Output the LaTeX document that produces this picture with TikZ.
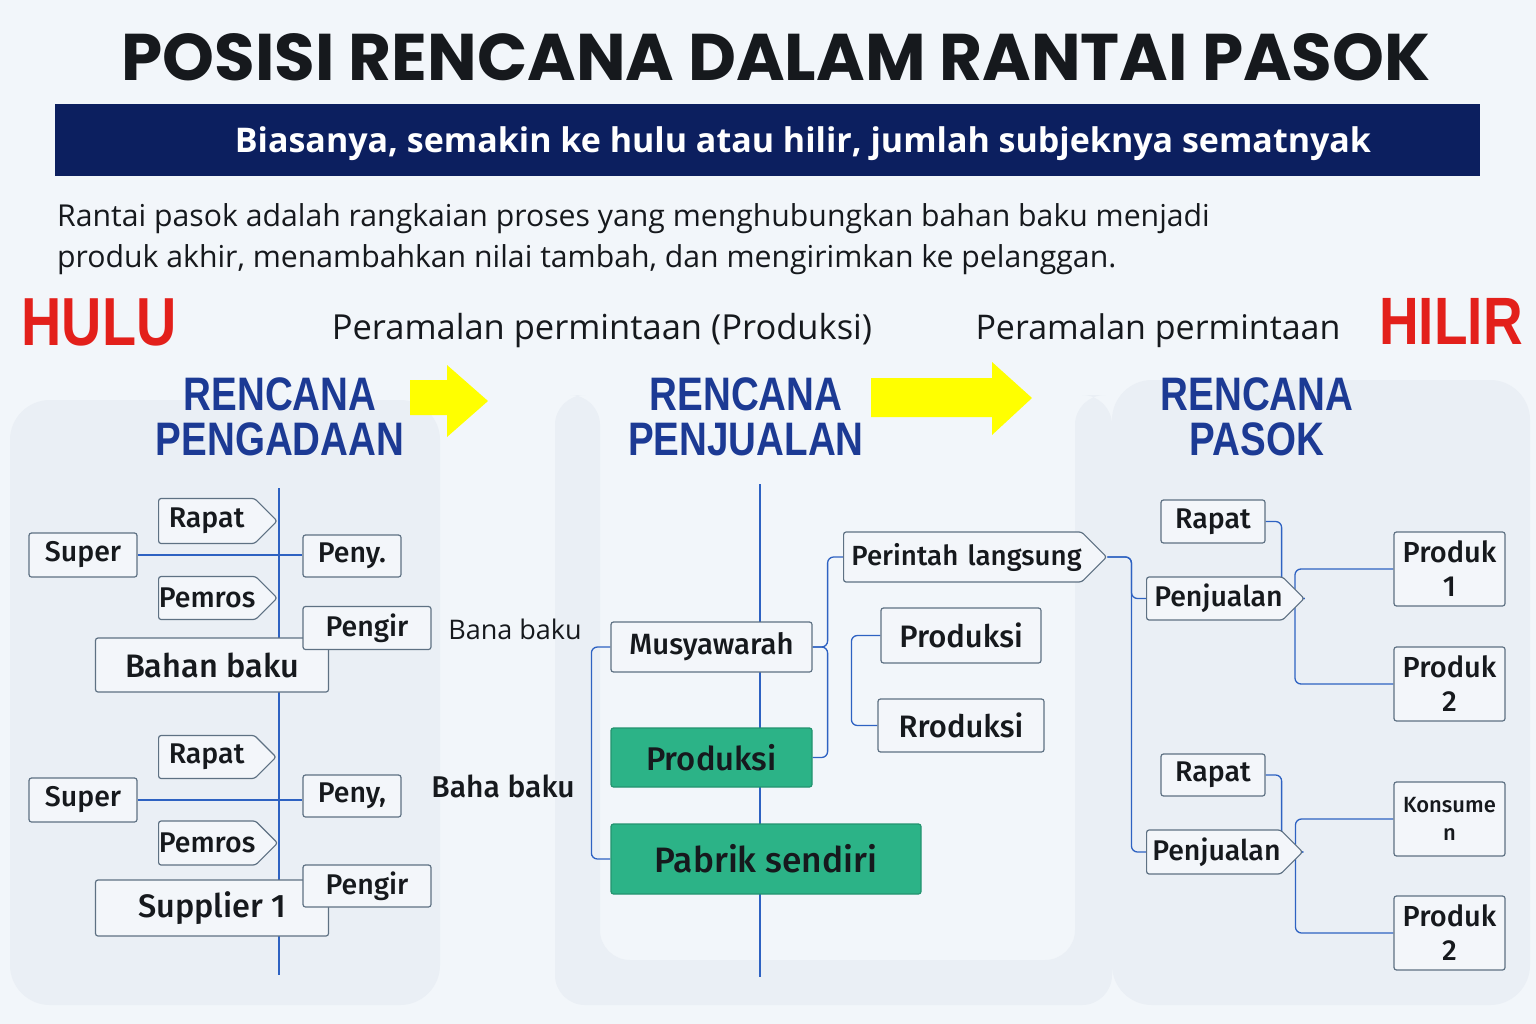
\documentclass[tikz,border=0pt]{standalone}
\usepackage{fontspec}
\setmainfont{Open Sans}
\newfontfamily\titlefont{Poppins}
\newfontfamily\condfont[FakeStretch=0.82]{Liberation Sans}
\IfFontExistsTF{Fira Sans Medium}
  {\newfontfamily\boxfont{Fira Sans Medium}}
  {\IfFontExistsTF{Open Sans Semibold}
    {\newfontfamily\boxfont{Open Sans Semibold}}
    {\IfFontExistsTF{Open Sans SemiBold}
      {\newfontfamily\boxfont{Open Sans SemiBold}}
      {\newfontfamily\boxfont{Open Sans}}}}
\usetikzlibrary{shapes.symbols}
\pgfdeclarelayer{bgl}
\pgfdeclarelayer{back}
\pgfsetlayers{bgl,back,main}
\definecolor{bgc}{HTML}{F2F6FA}
\definecolor{wmark}{HTML}{EAEFF5}
\definecolor{navy}{HTML}{0C1F5F}
\definecolor{headblue}{HTML}{1C3A94}
\definecolor{hred}{HTML}{E3201B}
\definecolor{linkblue}{HTML}{2E62C2}
\definecolor{boxedge}{HTML}{5E7183}
\definecolor{boxfill}{HTML}{F3F6FA}
\definecolor{pgreen}{HTML}{2CB387}
\definecolor{pgreenedge}{HTML}{23936F}
\definecolor{txt}{HTML}{16191D}
\definecolor{yel}{HTML}{FFFF00}
\tikzset{
  fs/.style={font=\boxfont\fontsize{#1}{#1}\selectfont},
  box/.style={draw=boxedge, fill=boxfill, rounded corners=2.5pt, line width=1.2pt, inner sep=0pt, text=txt, fs=28.5},
  tagbox/.style={box, signal, signal to=east, signal from=nowhere, anchor=west, text width=#1, align=center},
  gbox/.style={box, fill=pgreen, draw=pgreenedge, fs=32.8},
  link/.style={draw=linkblue, line width=1.3pt, rounded corners=6pt},
  spine/.style={draw=linkblue, line width=1.3pt},
  head/.style={text=headblue, align=center, font=\condfont\bfseries\fontsize{47}{45}\selectfont},
}
\begin{document}
\begin{tikzpicture}[x=1pt,y=-1pt]
\useasboundingbox (0,0) rectangle (1536,1024);
\begin{pgfonlayer}{bgl}
\fill[bgc] (0,0) rectangle (1536,1024);
\fill[wmark, rounded corners=40] (10,400) rectangle (440,1005);
\fill[wmark, rounded corners=30] (555,395) -- (555,1005) -- (1112,1005) -- (1112,395) -- (1075,395) -- (1075,960) -- (600,960) -- (600,395) -- cycle;
\fill[wmark, rounded corners=40] (1112,380) rectangle (1530,1005);
\end{pgfonlayer}

% title
\node[font=\titlefont\bfseries\fontsize{66}{66}\selectfont, text=txt] (title) at (776,57) {POSISI RENCANA DALAM RANTAI PASOK};
\node[fill=navy, minimum width=1425, minimum height=72, inner sep=0pt] (band) at (767.5,140) {};
\node[text=white, font=\bfseries\fontsize{34}{34}\selectfont] (bandtxt) at (803,144) {Biasanya, semakin ke hulu atau hilir, jumlah subjeknya sematnyak};
\node[anchor=north west, align=left, text=txt, inner sep=0pt, font=\fontsize{30.2}{41}\selectfont] (para) at (57,203) {Rantai pasok adalah rangkaian proses yang menghubungkan bahan baku menjadi\\produk akhir, menambahkan nilai tambah, dan mengirimkan ke pelanggan.};

\node[text=hred, font=\condfont\bfseries\fontsize{68}{68}\selectfont] (hulu) at (99,322) {HULU};
\node[text=hred, font=\condfont\bfseries\fontsize{67}{67}\selectfont] (hilir) at (1451,321) {HILIR};
\node[text=txt, font=\fontsize{34.5}{34.5}\selectfont] (pp1) at (602,331) {Peramalan permintaan (Produksi)};
\node[text=txt, font=\fontsize{34}{34}\selectfont] (pp2) at (1158,331) {Peramalan permintaan};

\node[head] (h1) at (280,417) {RENCANA\\PENGADAAN};
\node[head] (h2) at (746,417) {RENCANA\\PENJUALAN};
\node[head] (h3) at (1257,417) {RENCANA\\PASOK};

\fill[yel] (410,380) -- (447,380) -- (447,365) -- (488,401) -- (447,437) -- (447,415) -- (410,415) -- cycle;
\fill[yel] (871,378) -- (992,378) -- (992,362) -- (1032,398) -- (992,435) -- (992,417) -- (871,417) -- cycle;

% ---------- left ----------
\coordinate (ltop) at (279,488);
\coordinate (lbot) at (279,975);
\node[box, minimum width=108, minimum height=44] (sup1) at (83,555) {Super};
\node[tagbox=96, minimum height=45] (rap1) at (158,521) {Rapat};
\node[box, minimum width=98, minimum height=42] (peny1) at (352,556) {Peny.};
\node[tagbox=97, minimum height=43] (pem1) at (158,598) {Pemros};
\node[box, minimum width=233, minimum height=54, fs=32.5] (bahan) at (212,665) {Bahan baku};
\node[box, minimum width=128, minimum height=43] (peng1) at (367,628) {Pengir};
\node[text=txt, font=\fontsize{27}{27}\selectfont] (bana) at (515,629) {Bana baku};

\node[tagbox=96, minimum height=43] (rap2) at (158,757) {Rapat};
\node[box, minimum width=108, minimum height=44] (sup2) at (83,800) {Super};
\node[box, minimum width=98, minimum height=42] (peny2) at (352,796) {Peny,};
\node[tagbox=97, minimum height=44] (pem2) at (158,843) {Pemros};
\node[box, minimum width=233, minimum height=56, fs=32.5] (supp) at (212,908) {Supplier 1};
\node[box, minimum width=128, minimum height=42] (peng2) at (367,886) {Pengir};
\node[text=txt, font=\boxfont\fontsize{30}{30}\selectfont] (baha) at (503,786) {Baha baku};

% ---------- middle ----------
\coordinate (mtop) at (760,484);
\coordinate (mbot) at (760,977);
\node[box, minimum width=201, minimum height=50, fs=29.3] (mus) at (711.5,647) {Musyawarah};
\node[gbox, minimum width=201, minimum height=59] (prod) at (711.5,757.5) {Produksi};
\node[gbox, minimum width=310, minimum height=70, fs=35.3] (pab) at (766,859) {Pabrik sendiri};
\node[tagbox=238, align=right, minimum height=50, fs=27.7] (per) at (843,557) {Perintah langsung};
\node[box, minimum width=160, minimum height=55, fs=31] (prod2) at (961,635.5) {Produksi};
\node[box, minimum width=166, minimum height=53, fs=31] (rrod) at (961,725.5) {Rroduksi};

% ---------- right ----------
\node[box, minimum width=104, minimum height=43] (rapr1) at (1213,521.5) {Rapat};
\node[tagbox=136, align=right, minimum height=43] (pen1) at (1146,598.5) {Penjualan};
\node[box, minimum width=111, minimum height=74, align=center, font=\boxfont\fontsize{29}{34}\selectfont] (pr1) at (1449.5,569) {Produk\\1};
\node[box, minimum width=111, minimum height=74, align=center, font=\boxfont\fontsize{29}{34}\selectfont] (pr2) at (1449.5,684) {Produk\\2};
\node[box, minimum width=104, minimum height=42] (rapr2) at (1213,775) {Rapat};
\node[tagbox=134, align=right, minimum height=44] (pen2) at (1146,852) {Penjualan};
\node[box, minimum width=111, minimum height=74, align=center, font=\boxfont\fontsize{22}{28}\selectfont] (kon) at (1449.5,819) {Konsume\\n};
\node[box, minimum width=111, minimum height=74, align=center, font=\boxfont\fontsize{29}{34}\selectfont] (pr3) at (1449.5,933) {Produk\\2};

\begin{pgfonlayer}{back}
\draw[spine] (ltop) -- (lbot);
\draw[spine] (sup1.east) -- (sup1.east -| peny1.west);
\draw[spine] (sup2.east) -- (sup2.east -| peny2.west);
\draw[spine] (mtop) -- (mbot);
\draw[link] (mus.west) -- ++(-19,0) |- (pab.west);
\draw[link] (mus.east) -- ++(15,0) |- (per.west);
\draw[link] (mus.east) -- ++(15,0) |- (prod.east);
\draw[link] (prod2.west) -- ++(-29,0) |- (rrod.west);
\draw[link] (per.east) -- ++(24,0) |- (pen1.west);
\draw[link] (per.east) -- ++(24,0) |- (pen2.west);
\draw[link] (rapr1.east) -- ++(16,0) |- (pen1.center);
\draw[link] (rapr2.east) -- ++(16,0) |- (pen2.center);
\draw[link] (pen1.east) -- ++(-10,0) |- (pr1.west);
\draw[link] (pen1.east) -- ++(-10,0) |- (pr2.west);
\draw[link] (pen2.east) -- ++(-8,0) |- (kon.west);
\draw[link] (pen2.east) -- ++(-8,0) |- (pr3.west);
\end{pgfonlayer}
\end{tikzpicture}
\end{document}
